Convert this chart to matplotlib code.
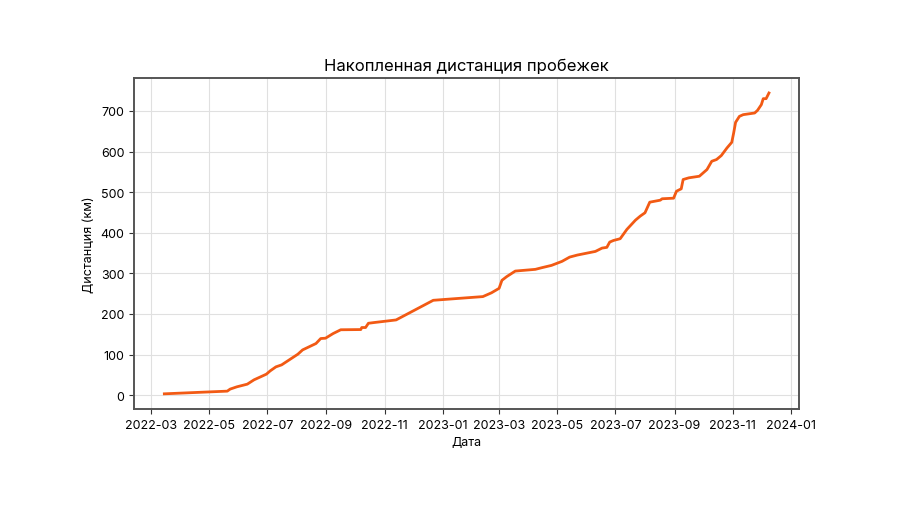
import matplotlib
matplotlib.use('Agg')
import matplotlib.pyplot as plt
import matplotlib.dates as mdates
import pandas as pd

plt.rcParams['font.family'] = ['Inter', 'DejaVu Sans']

# cumulative running distance, km
dates = ['2022-03-15', '2022-05-20', '2022-05-23', '2022-05-30', '2022-06-10',
         '2022-06-17', '2022-06-30', '2022-07-04', '2022-07-10', '2022-07-16',
         '2022-08-02', '2022-08-07', '2022-08-21', '2022-08-26', '2022-08-31',
         '2022-09-08', '2022-09-16', '2022-10-07', '2022-10-08', '2022-10-12',
         '2022-10-15', '2022-10-21', '2022-11-13', '2022-12-22', '2023-02-12',
         '2023-02-21', '2023-03-01', '2023-03-04', '2023-03-09', '2023-03-18',
         '2023-04-08', '2023-04-15', '2023-04-25', '2023-05-06', '2023-05-14',
         '2023-05-22', '2023-06-10', '2023-06-17', '2023-06-22', '2023-06-25',
         '2023-06-29', '2023-07-06', '2023-07-13', '2023-07-22', '2023-07-27',
         '2023-08-01', '2023-08-06', '2023-08-17', '2023-08-19', '2023-08-31',
         '2023-09-03', '2023-09-08', '2023-09-10', '2023-09-16', '2023-09-27',
         '2023-10-05', '2023-10-10', '2023-10-15', '2023-10-20', '2023-10-26',
         '2023-10-31', '2023-11-02', '2023-11-04', '2023-11-08', '2023-11-12',
         '2023-11-24', '2023-11-27', '2023-12-01', '2023-12-03', '2023-12-06',
         '2023-12-09']
distance = [3.2, 9.8, 14.8, 20.4, 27.0, 37.6, 51.6, 59.7, 69.6, 74.5,
            100.8, 111.4, 127.1, 139.4, 140.2, 151.7, 161.0, 161.5, 166.5, 166.5,
            177.0, 178.8, 185.2, 233.6, 242.7, 252.0, 263.0, 282.8, 291.9, 305.6,
            309.8, 314.0, 319.6, 329.5, 340.0, 345.0, 354.0, 362.2, 364.0, 377.0,
            381.0, 385.3, 408.2, 431.0, 440.9, 449.2, 475.3, 480.2, 483.7, 485.1,
            502.3, 508.2, 531.1, 535.3, 539.2, 555.7, 576.1, 580.3, 590.1, 609.0,
            622.8, 646.0, 672.0, 686.7, 690.9, 695.0, 701.5, 715.5, 730.3, 730.3,
            744.3]

x = pd.to_datetime(dates)

fig, ax = plt.subplots(figsize=(9, 5.06), dpi=100)
fig.subplots_adjust(left=0.149, right=0.888, top=0.844, bottom=0.19)

ax.plot(x, distance, color='#f25a14', linewidth=2.0)

ax.set_title('Накопленная дистанция пробежек', fontsize=12)
ax.set_xlabel('Дата', fontsize=9)
ax.set_ylabel('Дистанция (км)', fontsize=9)
ax.grid(True, color='#e0e0e0', linewidth=0.8)
ax.xaxis.set_major_locator(mdates.MonthLocator(bymonth=[1, 3, 5, 7, 9, 11]))
ax.xaxis.set_major_formatter(mdates.DateFormatter('%Y-%m'))
ax.tick_params(labelsize=9, color='#333333')
for s in ax.spines.values():
    s.set_color('#555555')
    s.set_linewidth(1.4)

fig.savefig('out.png', dpi=100)
